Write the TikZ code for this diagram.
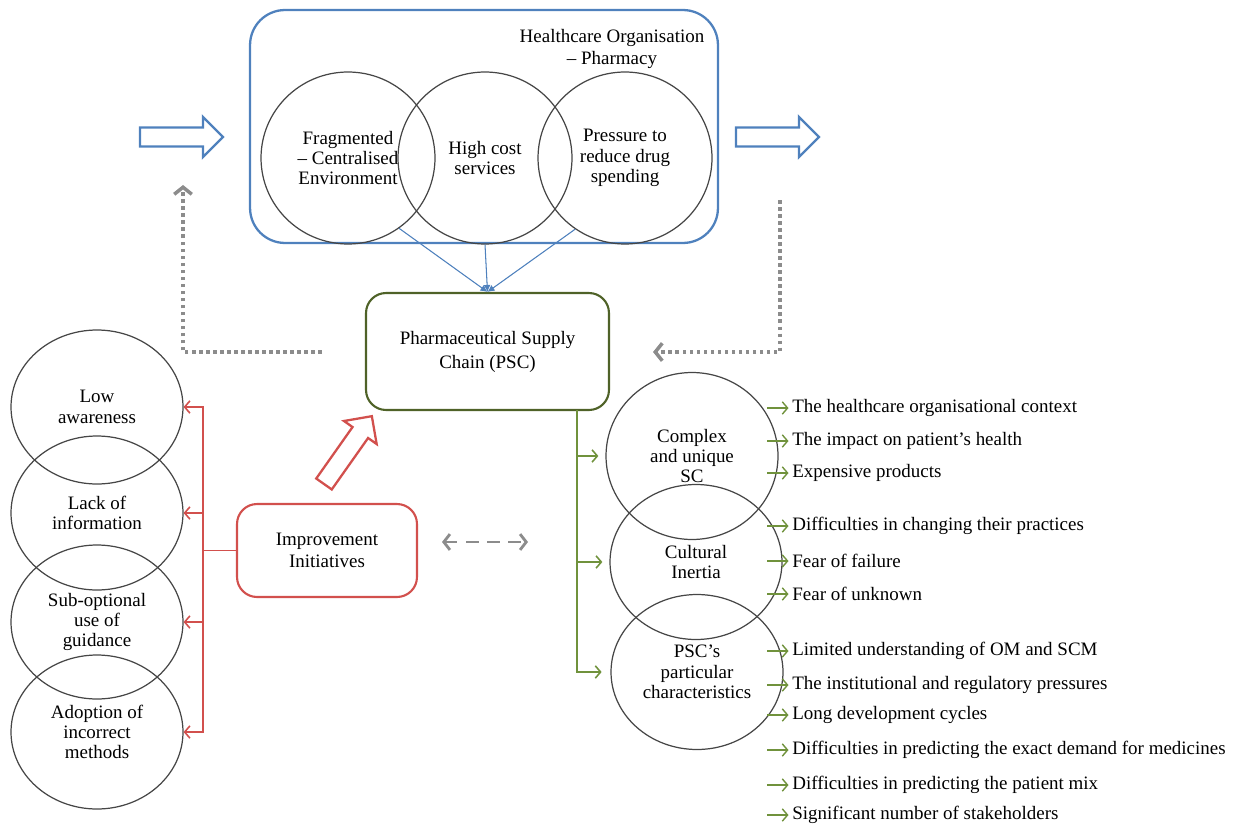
\documentclass[tikz,border=0pt]{standalone}
\usepackage{fontspec}
\setmainfont{Liberation Serif}
\usepackage{tikz}
\usetikzlibrary{calc}
\usetikzlibrary{arrows}
\usetikzlibrary{arrows.meta}
\usetikzlibrary{shapes}
\usetikzlibrary{positioning}
\usetikzlibrary{shapes.geometric}
\definecolor{hcblue}{RGB}{79,129,189}
\definecolor{pscgreen}{RGB}{79,98,40}
\definecolor{listgreen}{RGB}{112,146,60}
\definecolor{imred}{RGB}{210,80,77}
\definecolor{loopgray}{RGB}{140,140,140}
\definecolor{ringgray}{RGB}{70,70,70}
\newcommand{\txtfont}{\fontsize{10.8pt}{11.6pt}\selectfont}
\tikzset{>=latex}
\tikzstyle{ring} = [draw=ringgray, line width=0.7pt, ellipse, inner sep=0pt, align=center, font=\txtfont]
\tikzstyle{topring} = [ring, minimum width=3.48cm, minimum height=3.44cm]
\tikzstyle{leftring} = [ring, minimum width=3.44cm, minimum height=3.08cm]
\tikzstyle{rightring} = [ring, minimum width=3.44cm, minimum height=3.1cm]
\tikzstyle{item} = [anchor=west, inner sep=0pt, font=\txtfont]
\tikzstyle{barb} = [-{Straight Barb[length=3pt, width=7pt]}]
\tikzstyle{loopback} = [draw=loopgray, line width=2pt, dash pattern=on 2pt off 2pt, -{Straight Barb[length=4pt, width=10pt]}]
\tikzset{fatarrow/.pic={\draw[pic actions] (0,-9.5) -- (63,-9.5) -- (63,-20) -- (83,0) -- (63,20) -- (63,9.5) -- (0,9.5) -- cycle;}}

\begin{document}
\begin{tikzpicture}[x=0.02cm, y=-0.02cm]
\useasboundingbox (0,0) rectangle (1236,824);

% healthcare organisation
\node [draw=hcblue, line width=1.3pt, rounded corners=0.7cm, minimum width=9.36cm, minimum height=4.66cm] (HO) at (484,126.5) {};
\node [align=center, font=\fontsize{10.8pt}{12.4pt}\selectfont] (HOlabel) at (612,49) {Healthcare Organisation\\– Pharmacy};
\node [topring] (frag) at (348,158) {Fragmented\\– Centralised\\Environment};
\node [topring] (cost) at (485,158) {High cost\\services};
\node [topring] (spend) at (625,158) {Pressure to\\reduce drug\\spending};

\pic [draw=hcblue, line width=1.3pt] at (140,137) {fatarrow};
\pic [draw=hcblue, line width=1.3pt] at (736,137) {fatarrow};

% supply chain
\node [draw=pscgreen, line width=1.2pt, rounded corners=0.4cm, minimum width=4.86cm, minimum height=2.34cm, align=center, font=\fontsize{10.8pt}{13.6pt}\selectfont] (PSC) at (487.5,351.5) {Pharmaceutical Supply\\Chain (PSC)};
\draw [-{Latex[length=4pt, width=4pt]}, draw=hcblue, fill=hcblue, line width=0.6pt] (frag.-54) to (PSC.north);
\draw [-{Latex[length=4pt, width=4pt]}, draw=hcblue, fill=hcblue, line width=0.6pt] (cost.south) to (PSC.north);
\draw [-{Latex[length=4pt, width=4pt]}, draw=hcblue, fill=hcblue, line width=0.6pt] (spend.-125) to (PSC.north);

% feedback loops
\coordinate (loopLstart) at (322,352);
\coordinate (loopLend) at (183,185);
\coordinate (loopRstart) at (780,200);
\coordinate (loopRend) at (653,352);
\draw [loopback] (loopLstart) -| (loopLend);
\draw [loopback] (loopRstart) |- (loopRend);

% improvement initiatives
\node [draw=imred, line width=1.2pt, rounded corners=0.4cm, minimum width=3.6cm, minimum height=1.86cm, align=center, font=\fontsize{10.8pt}{12.4pt}\selectfont] (IMP) at (327,550.5) {Improvement\\Initiatives};
\pic [draw=imred, line width=1.3pt, rotate=54.8] at (324,484) {fatarrow};

\node [leftring] (low) at (97,407) {Low\\awareness};
\node [leftring] (lack) at (97,513) {Lack of\\information};
\node [leftring] (sub) at (97,622) {Sub-optional\\use of\\guidance};
\node [leftring] (adopt) at (97,732) {Adoption of\\incorrect\\methods};
\coordinate (redhub) at (203,550.5);
\draw [draw=imred, line width=0.9pt] (IMP.west) to (redhub);
\foreach \c in {low, lack, sub, adopt}
  \draw [barb, draw=imred, line width=0.9pt] (redhub) |- (\c.east);

\coordinate (linkL) at (442,542);
\coordinate (linkR) at (528,542);
\draw [draw=loopgray, line width=1.6pt, dash pattern=on 7pt off 5pt, {Straight Barb[length=3.5pt, width=9pt]}-{Straight Barb[length=3.5pt, width=9pt]}] (linkL) to (linkR);

% barriers
\node [rightring, minimum height=3.34cm] (complex) at (692,456) {Complex\\and unique\\SC};
\node [rightring] (cultural) at (696,562) {Cultural\\Inertia};
\node [rightring] (pscchar) at (697,672) {PSC’s\\particular\\characteristics};
\coordinate (gspine) at (577,410);
\draw [barb, draw=listgreen, line width=0.9pt, shorten >=4pt] (gspine) |- (complex.west);
\draw [barb, draw=listgreen, line width=0.9pt, shorten >=4pt] (gspine) |- (cultural.west);
\draw [barb, draw=listgreen, line width=0.9pt, shorten >=5pt] (gspine) |- (pscchar.west);

\foreach \y/\txt [count=\i] in {408/The healthcare organisational context,
  441/The impact on patient’s health,
  473/Expensive products,
  526/Difficulties in changing their practices,
  561/Fear of failure,
  594/Fear of unknown,
  651/Limited understanding of OM and SCM,
  685/The institutional and regulatory pressures,
  715/Long development cycles,
  750/Difficulties in predicting the exact demand for medicines,
  785/Difficulties in predicting the patient mix,
  815/Significant number of stakeholders}
{
  \node [item] (item\i) at (792,\y) {\txt};
  \draw [barb, draw=listgreen, line width=0.8pt, shorten >=2pt] ([xshift=-0.5cm]item\i.west) to (item\i.west);
}
\end{tikzpicture}
\end{document}
